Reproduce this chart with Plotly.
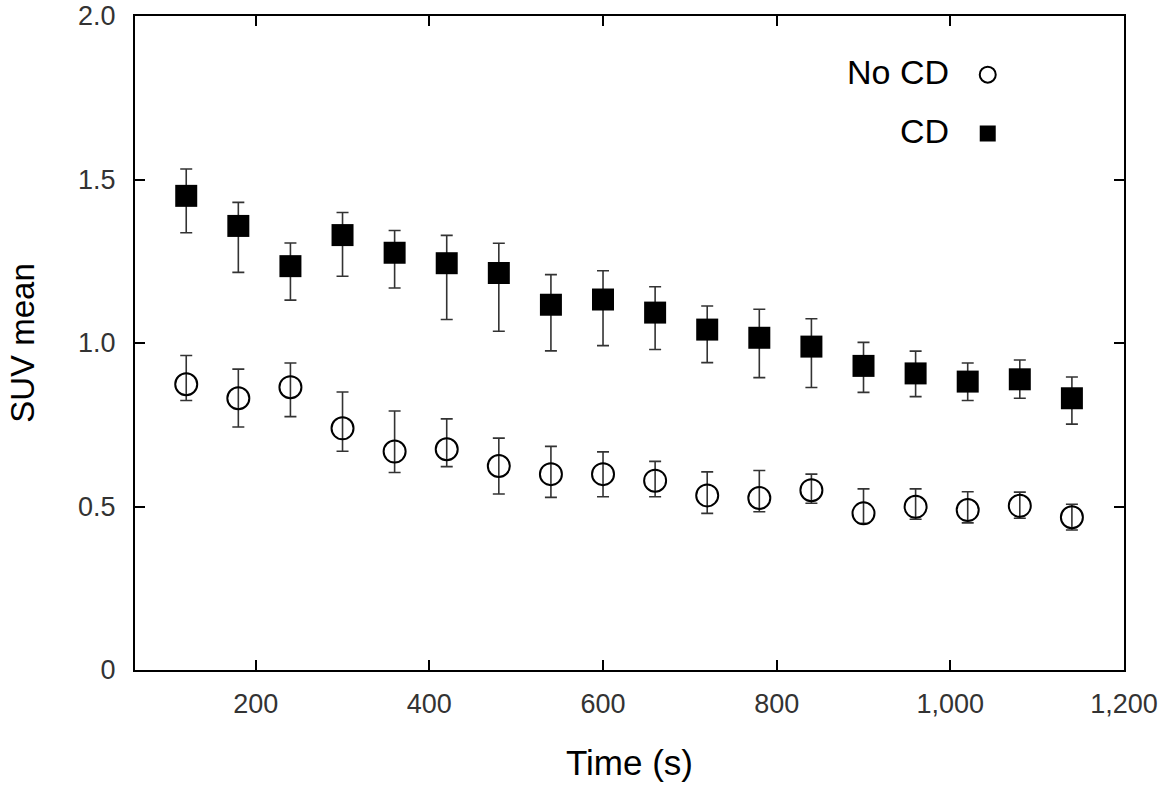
import plotly.graph_objects as go

time_s = [120, 180, 240, 300, 360, 420, 480, 540, 600, 660, 720, 780, 840, 900, 960, 1020, 1080, 1140]

no_cd = [0.874, 0.831, 0.865, 0.739, 0.668, 0.675, 0.624, 0.599, 0.599, 0.579, 0.534, 0.526, 0.550, 0.479, 0.499, 0.489, 0.502, 0.467]
no_cd_err_up = [0.088, 0.089, 0.074, 0.111, 0.124, 0.093, 0.085, 0.085, 0.068, 0.059, 0.072, 0.084, 0.049, 0.075, 0.055, 0.056, 0.042, 0.040]
no_cd_err_down = [0.050, 0.088, 0.090, 0.070, 0.064, 0.053, 0.086, 0.071, 0.069, 0.049, 0.055, 0.042, 0.040, 0.030, 0.038, 0.039, 0.038, 0.039]

cd = [1.450, 1.358, 1.235, 1.330, 1.276, 1.244, 1.214, 1.117, 1.133, 1.093, 1.041, 1.016, 0.989, 0.930, 0.907, 0.882, 0.889, 0.831]
cd_err_up = [0.082, 0.072, 0.071, 0.069, 0.068, 0.085, 0.091, 0.092, 0.088, 0.079, 0.072, 0.087, 0.085, 0.072, 0.068, 0.057, 0.059, 0.065]
cd_err_down = [0.113, 0.142, 0.104, 0.126, 0.108, 0.172, 0.178, 0.141, 0.141, 0.113, 0.101, 0.122, 0.125, 0.081, 0.071, 0.058, 0.058, 0.079]

series_names = ["No CD", "CD"]
x_tickvals = [200, 400, 600, 800, 1000, 1200]
x_ticktext = ["200", "400", "600", "800", "1,000", "1,200"]
y_tickvals = [0, 0.5, 1.0, 1.5, 2.0]
y_ticktext = ["0", "0.5", "1.0", "1.5", "2.0"]

FONT = "Liberation Sans, Arial, sans-serif"
err_color = "#333333"

fig = go.Figure()
fig.add_trace(go.Scatter(
    x=time_s, y=no_cd, mode="markers", name="",
    marker=dict(symbol="circle-open", size=22, color="black", line=dict(width=2, color="black")),
    error_y=dict(type="data", array=no_cd_err_up, arrayminus=no_cd_err_down, symmetric=False,
                 color=err_color, thickness=1.6, width=6),
))
fig.add_trace(go.Scatter(
    x=time_s, y=cd, mode="markers", name="",
    marker=dict(symbol="square", size=22, color="black", line=dict(width=0)),
    error_y=dict(type="data", array=cd_err_up, arrayminus=cd_err_down, symmetric=False,
                 color=err_color, thickness=1.6, width=6),
))

# legend labels placed to the left of the legend symbols
for name, yp in zip(series_names, [0.9143, 0.8241]):
    fig.add_annotation(xref="paper", yref="paper", x=0.825, y=yp, text=name, showarrow=False,
                       xanchor="right", yanchor="middle", font=dict(family=FONT, size=34, color="black"))

axis_common = dict(showline=True, linecolor="black", linewidth=2, mirror="ticks",
                   ticks="inside", ticklen=10, tickwidth=2, tickcolor="black",
                   showgrid=False, zeroline=False,
                   tickfont=dict(family=FONT, size=27, color="#333333"))

fig.update_xaxes(range=[61, 1200], tickvals=x_tickvals, ticktext=x_ticktext,
                 ticklabelstandoff=9,
                 title=dict(text="Time (s)", font=dict(family=FONT, size=35, color="black"), standoff=32),
                 **axis_common)
fig.update_yaxes(range=[0, 2.0], tickvals=y_tickvals, ticktext=y_ticktext,
                 ticklabelstandoff=12,
                 title=dict(text="SUV mean", font=dict(family=FONT, size=33, color="black"), standoff=34),
                 **axis_common)

fig.update_layout(
    width=1168, height=788,
    margin=dict(l=135, r=44, t=16, b=118, autoexpand=False),
    paper_bgcolor="white", plot_bgcolor="white",
    showlegend=True,
    legend=dict(x=0.842, y=0.963, xanchor="left", yanchor="top", bgcolor="rgba(0,0,0,0)",
                font=dict(family=FONT, size=43), itemsizing="trace"),
)

fig.write_html("out.html", config={"displayModeBar": False},
               post_script="document.body.style.margin='0';document.body.style.padding='0';")
